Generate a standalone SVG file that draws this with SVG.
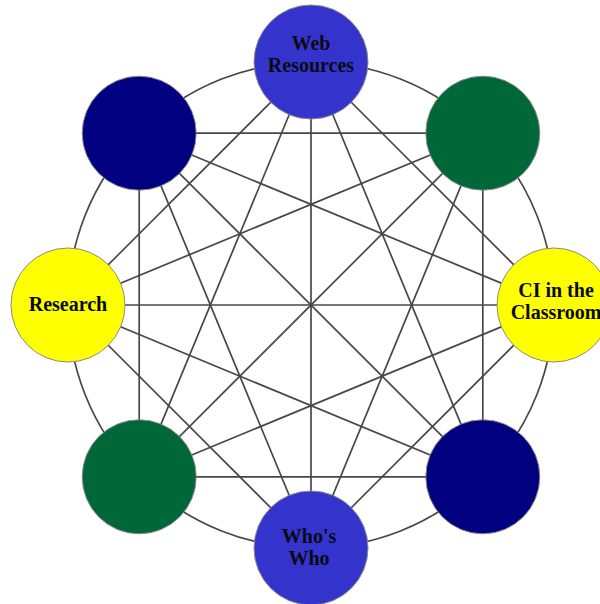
<svg xmlns="http://www.w3.org/2000/svg" width="600" height="604" viewBox="0 0 600 604">
<style>
.c{stroke:#474747;stroke-width:1.7;fill:none}
.n{stroke:#8a8a8a;stroke-width:1}
.blue{fill:#3434cc}
.navy{fill:#000080}
.green{fill:#006838}
.yellow{fill:#ffff00}
.t{font-family:"Liberation Serif","Times New Roman",serif;font-weight:bold;font-size:20px;fill:#0a0a14;text-anchor:middle}
</style>
<rect width="600" height="604" fill="#fff"/>
<g id="connectors" class="c">
<circle cx="311" cy="305" r="243"/>
<line x1="311" y1="62" x2="554" y2="305"/>
<line x1="311" y1="62" x2="482.8" y2="476.8"/>
<line x1="311" y1="62" x2="311" y2="548"/>
<line x1="311" y1="62" x2="139.2" y2="476.8"/>
<line x1="311" y1="62" x2="68" y2="305"/>
<line x1="482.8" y1="133.2" x2="482.8" y2="476.8"/>
<line x1="482.8" y1="133.2" x2="311" y2="548"/>
<line x1="482.8" y1="133.2" x2="139.2" y2="476.8"/>
<line x1="482.8" y1="133.2" x2="68" y2="305"/>
<line x1="482.8" y1="133.2" x2="139.2" y2="133.2"/>
<line x1="554" y1="305" x2="311" y2="548"/>
<line x1="554" y1="305" x2="139.2" y2="476.8"/>
<line x1="554" y1="305" x2="68" y2="305"/>
<line x1="554" y1="305" x2="139.2" y2="133.2"/>
<line x1="482.8" y1="476.8" x2="139.2" y2="476.8"/>
<line x1="482.8" y1="476.8" x2="68" y2="305"/>
<line x1="482.8" y1="476.8" x2="139.2" y2="133.2"/>
<line x1="311" y1="548" x2="68" y2="305"/>
<line x1="311" y1="548" x2="139.2" y2="133.2"/>
<line x1="139.2" y1="476.8" x2="139.2" y2="133.2"/>
</g>
<g id="web-resources">
<circle class="n blue" cx="311" cy="62" r="57"/>
<text class="t" x="311" y="50">Web</text>
<text class="t" x="311" y="72">Resources</text>
</g>
<g id="top-right">
<circle class="n green" cx="482.8" cy="133.2" r="57"/>
</g>
<g id="ci-classroom">
<circle class="n yellow" cx="554" cy="305" r="57"/>
<text class="t" x="556" y="297">CI in the</text>
<text class="t" x="556" y="319">Classroom</text>
</g>
<g id="bottom-right">
<circle class="n navy" cx="482.8" cy="476.8" r="57"/>
</g>
<g id="whos-who">
<circle class="n blue" cx="311" cy="548" r="57"/>
<text class="t" x="309" y="543">Who's</text>
<text class="t" x="309" y="565">Who</text>
</g>
<g id="bottom-left">
<circle class="n green" cx="139.2" cy="476.8" r="57"/>
</g>
<g id="research">
<circle class="n yellow" cx="68" cy="305" r="57"/>
<text class="t" x="68" y="311">Research</text>
</g>
<g id="top-left">
<circle class="n navy" cx="139.2" cy="133.2" r="57"/>
</g>
</svg>
